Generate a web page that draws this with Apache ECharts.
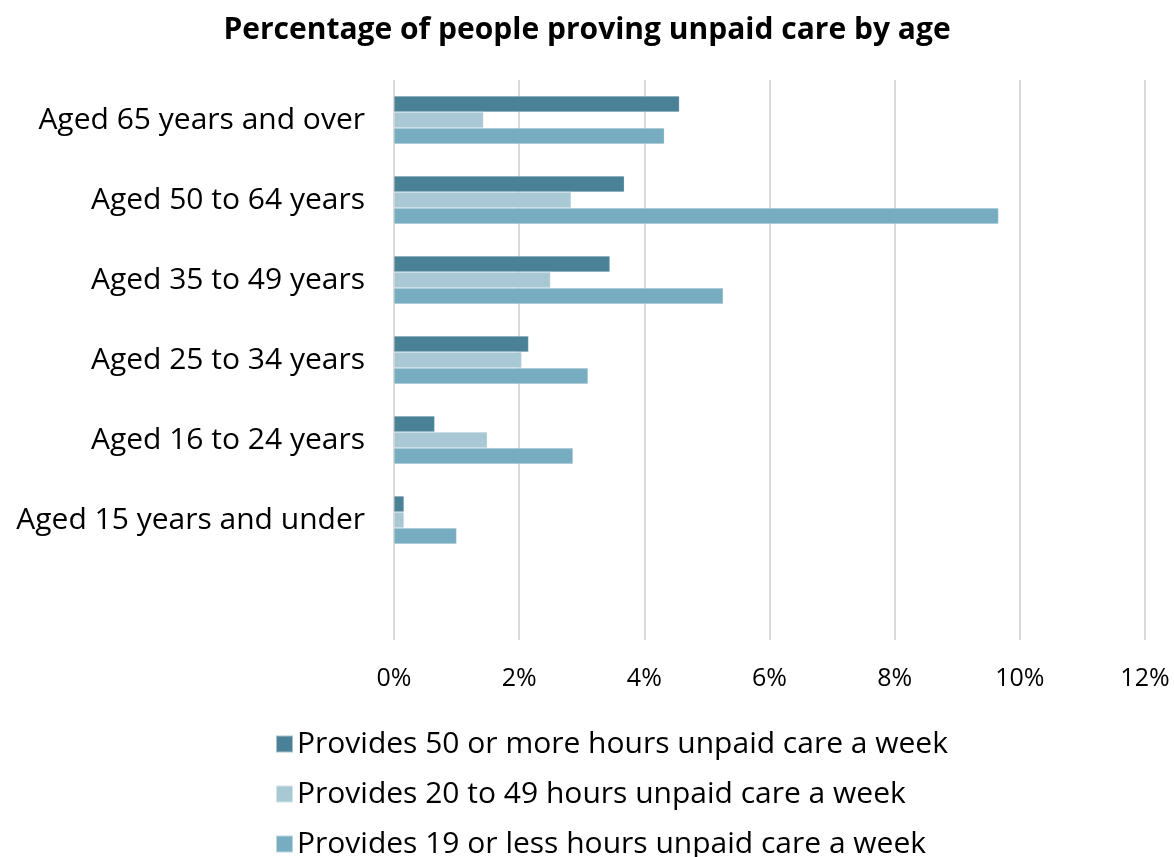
<!DOCTYPE html>
<html>
<head>
<meta charset="utf-8">
<script src="https://cdn.jsdelivr.net/npm/echarts@6/dist/echarts.min.js"></script>
<style>
  html, body { margin: 0; padding: 0; background: #fff; }
  #chart { width: 1174px; height: 857px; }
</style>
</head>
<body>
<div id="chart"></div>
<script>
// categories top to bottom, last one is the empty slot under the chart
const ageGroups = ['Aged 65 years and over', 'Aged 50 to 64 years', 'Aged 35 to 49 years',
  'Aged 25 to 34 years', 'Aged 16 to 24 years', 'Aged 15 years and under', ''];
const seriesNames = ['Provides 50 or more hours unpaid care a week',
  'Provides 20 to 49 hours unpaid care a week',
  'Provides 19 or less hours unpaid care a week'];
const hours50plus = [4.56, 3.68, 3.45, 2.15, 0.65, 0.16, null];
const hours20to49 = [1.43, 2.83, 2.50, 2.04, 1.49, 0.16, null];
const hours19less = [4.32, 9.66, 5.26, 3.10, 2.86, 1.00, null];
const xTicks = [0, 2, 4, 6, 8, 10, 12];
const colors = ['#4a8196', '#a8c9d4', '#78adc1'];

const font = '"Open Sans", "DejaVu Sans", sans-serif';
const chart = echarts.init(document.getElementById('chart'));

const mkSeries = (name, data, color) => ({
  name,
  type: 'bar',
  data,
  barGap: '0%',
  barCategoryGap: '40%',
  itemStyle: { color, borderColor: 'rgba(255,255,255,0.5)', borderWidth: 0.5 },
});

// one legend per row so they stack instead of wrapping into columns
const mkLegend = (name, i) => ({
  orient: 'vertical',
  left: 270,
  top: 724 + i * 50,
  itemWidth: 17,
  itemHeight: 17,
  icon: 'rect',
  data: [name],
  textStyle: { fontFamily: font, fontSize: 30, lineHeight: 30, color: '#000', padding: [0, 0, 0, -1] },
});

chart.setOption({
  animation: false,
  title: {
    text: 'Percentage of people proving unpaid care by age',
    left: 'center',
    top: 10,
    textStyle: { fontFamily: font, fontSize: 30, fontWeight: 'bold', color: '#000' },
  },
  legend: seriesNames.map(mkLegend),
  grid: { left: 394, right: 29, top: 80, height: 560 },
  xAxis: {
    type: 'value',
    min: xTicks[0],
    max: xTicks[xTicks.length - 1],
    interval: 2,
    axisLine: { show: false },
    axisTick: { show: false },
    splitLine: { lineStyle: { color: '#d9d9d9', width: 2 } },
    axisLabel: {
      margin: 26,
      fontFamily: font,
      fontSize: 25,
      color: '#000',
      formatter: (v) => `${v}%`,
    },
  },
  yAxis: {
    type: 'category',
    inverse: true,
    data: ageGroups,
    axisLine: { show: false },
    axisTick: { show: false },
    axisLabel: { margin: 29, fontFamily: font, fontSize: 30, color: '#000' },
  },
  series: [
    mkSeries(seriesNames[0], hours50plus, colors[0]),
    mkSeries(seriesNames[1], hours20to49, colors[1]),
    mkSeries(seriesNames[2], hours19less, colors[2]),
  ],
});
</script>
</body>
</html>
